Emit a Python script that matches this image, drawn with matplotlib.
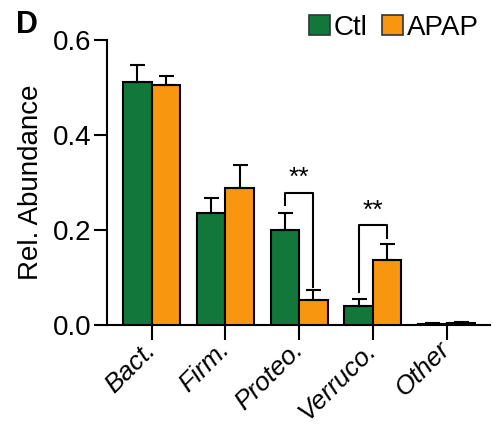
import matplotlib
matplotlib.use("Agg")
import matplotlib.pyplot as plt
import numpy as np
from matplotlib.patches import Patch

categories = ["Bact.", "Firm.", "Proteo.", "Verruco.", "Other"]
ctl_mean = [0.512, 0.235, 0.200, 0.041, 0.003]
ctl_err = [0.035, 0.032, 0.036, 0.014, 0.002]
apap_mean = [0.505, 0.288, 0.053, 0.138, 0.004]
apap_err = [0.019, 0.049, 0.020, 0.032, 0.003]
series_names = ["Ctl", "APAP"]
yticks = [0.0, 0.2, 0.4, 0.6]
# significance brackets: (category index, left leg bottom, top, right leg bottom, label)
sig = [(2, 0.253, 0.279, 0.081, "**"), (3, 0.070, 0.210, 0.183, "**")]

green = "#12773A"
orange = "#F8970F"

plt.rcParams['font.family'] = ['Liberation Sans', 'DejaVu Sans']

fig = plt.figure(figsize=(4.93, 4.25), dpi=100)
ax = fig.add_axes([0.217, 0.235, 0.777, 0.671])

x = np.arange(len(categories))
w = 0.387
lw = 1.5
ekw = dict(elinewidth=lw, capthick=lw, ecolor="black")
ax.bar(x - w/2, ctl_mean, w, color=green, edgecolor="black", linewidth=lw,
       yerr=[np.zeros(len(x)), ctl_err], capsize=5.4, error_kw=ekw, zorder=3)
ax.bar(x + w/2, apap_mean, w, color=orange, edgecolor="black", linewidth=lw,
       yerr=[np.zeros(len(x)), apap_err], capsize=5.4, error_kw=ekw, zorder=3)

for i, lb, top, rb, lab in sig:
    xl, xr = i - w/2, i + w/2
    ax.plot([xl, xl, xr, xr], [lb, top, top, rb], color="black", lw=lw, zorder=4)
    ax.text(i, top + 0.006, lab, ha="center", va="bottom", fontsize=19)

ax.set_xlim(-0.606, 4.59)
ax.set_ylim(0, 0.6)
ax.set_yticks(yticks)
ax.set_yticklabels([f"{v:.1f}" for v in yticks], fontsize=20)
ax.set_xticks(x)
ax.set_xticklabels(categories, rotation=45, ha="right", va="center",
                   rotation_mode="anchor", fontsize=19, style="italic")
ax.tick_params(axis="y", length=9.5, width=lw, pad=2)
ax.tick_params(axis="x", length=11, width=lw, pad=4)
for s in ["top", "right"]:
    ax.spines[s].set_visible(False)
for s in ["left", "bottom"]:
    ax.spines[s].set_linewidth(lw)
ax.set_ylabel("Rel. Abundance", fontsize=20, labelpad=6)

handles = [Patch(facecolor=green, edgecolor="#333333", linewidth=1.2),
           Patch(facecolor=orange, edgecolor="#333333", linewidth=1.2)]
fig.legend(handles, series_names, loc="upper right", bbox_to_anchor=(1.005, 1.005),
           ncol=2, frameon=False, fontsize=20, handlelength=0.75, handleheight=0.75,
           handletextpad=0.15, columnspacing=0.5, borderaxespad=0.2)

fig.text(0.032, 0.941, "D", fontsize=22, fontweight="bold", ha="left", va="center")

fig.savefig("out.png", dpi=100)
